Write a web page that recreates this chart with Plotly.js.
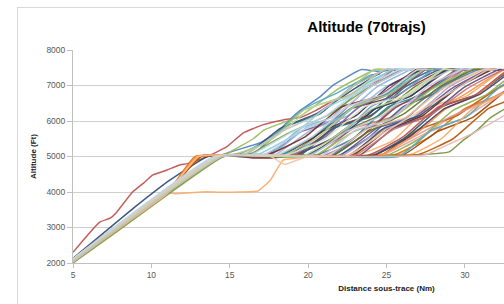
<!DOCTYPE html>
<html>
<head>
<meta charset="utf-8">
<script src="https://cdn.plot.ly/plotly-3.0.1.min.js"></script>
<style>
html,body{margin:0;padding:0;overflow:hidden;background:#fff;width:504px;height:304px;}
#frame{position:absolute;left:17px;top:7px;width:700px;height:330px;border:1px solid #d9d9d9;background:#fff;}
#chart{position:absolute;left:0;top:0;}
</style>
</head>
<body>
<div id="frame"><div id="chart"></div></div>
<script>
// Tick labels (the ones visible in the cropped reference)
const xTicks = [5, 10, 15, 20, 25, 30];
const yTicks = [2000, 3000, 4000, 5000, 6000, 7000, 8000];

// Trajectories: distance (Nm) and altitude (Ft)
const dist01 = [5,14.3,15.2,16.9,18,18.8,19.5,20.75,21.6,23.4,24.4,25.2];
const alt01  = [2080,5000,5150,5380,5660,6030,6300,6680,7010,7450,7400,7430];
const dist02 = [5,6.7,7.4,7.8,8.8,9.5,10.1,11,11.8,12.3,13.5,14.8,15.85,17.1,18.4,19.5,20.5,21.5,22.5,23.5,24.5,25.5,26.2];
const alt02  = [2300,3150,3270,3440,4000,4250,4480,4620,4760,4800,4990,5270,5660,5890,6030,6100,6300,6550,6700,6950,7150,7450,7440];
const dist03 = [5,9,11,11.5,12.5,13.5,14.5,15.5,16.8,17.6,18.4,19.2,20.5,22,24,25,26,27,28,29.5,31,32.5,36];
const alt03  = [2050,3330,3980,3950,3980,4010,3990,4000,4030,4340,4900,4950,5000,4990,5010,5000,5100,5400,5800,6200,6600,7000,7450];
const dist04 = [5,14.0,14.8,16.5,17.2,19.55,21.9,24.3,24.9];
const alt04  = [2120,5000,5080,5500,5750,6150,6900,7450,7450];
const dist05 = [5,14.3,15.6,17,18.5,19.25,21.5,23.75,26,26.6];
const alt05  = [2060,5000,5020,5010,5350,5650,6000,6900,7450,7440];
const dist06 = [5,14.2,15.5,17.6,19.75,21.9,24,24.6];
const alt06  = [2090,5000,5050,5500,6350,6800,7300,7320];
const dist07 = [5,9,11,13.0,14.5,18,22.5,25,27.5,30,32.5,33.1];
const alt07  = [2060,3330,3960,5000,5050,4990,5020,5800,6150,6750,7450,7450];
const dist08 = [5,9.1,11.2,13.6,16,18.25,20.5,22.75,25,25.6];
const alt08  = [2130,3630,4340,5000,5050,5800,6200,6850,7450,7440];
const dist09 = [5,14.5,16.5,18,20.4,22.75,25.1,27.5,28.1];
const alt09  = [2050,5000,4960,4970,5550,6350,6650,7450,7460];
const dist10 = [5,7.5,14.6,17,20,22.25,24.5,26.75,29,29.6];
const alt10  = [2020,2850,5000,5030,5000,5700,6150,6950,7450,7440];
const dist11 = [5,14.3,16.5,19,21.5,24,26.5,29,29.6];
const alt11  = [2070,5000,5040,5020,5500,6300,6700,7450,7450];
const dist12 = [5,14.1,16.5,18.6,20.75,22.9,25,25.6];
const alt12  = [2100,5000,5080,5850,6200,7000,7450,7430];
const dist13 = [5,9,11,13.1,16,20,24.5,27,29.5,32,34.5,36];
const alt13  = [2070,3340,3960,5000,5010,5030,5000,5750,6150,6900,7450,7450];
const dist14 = [5,14.3,16.5,18.5,20.75,23,25.25,27.5,28.1];
const alt14  = [2080,5000,5030,5060,5500,6450,6800,7450,7460];
const dist15 = [5,14.4,17.5,20.5,22.9,25.25,27.6,30,30.6];
const alt15  = [2110,5000,4980,5010,5800,6100,6850,7450,7440];
const dist16 = [5,14.2,15.2,17.45,19.7,21.95,24.2,24.8];
const alt16  = [2060,5000,5050,5400,6300,6650,7450,7450];
const dist17 = [5,14.5,18,21,23.25,25.5,27.75,30,30.6];
const alt17  = [2040,5000,5020,5030,5500,6400,6750,7450,7430];
const dist18 = [5,14.3,17.5,19.5,21.5,23.5,25.5,26.1];
const alt18  = [2090,5000,5050,5800,6100,7000,7450,7460];
const dist19 = [5,9,11,12.9,15,19,23,25.4,27.75,30.1,32.5,33.1];
const alt19  = [2050,3320,3960,5000,5040,5000,5020,5450,6400,6700,7450,7440];
const dist20 = [5,14.4,17,19.5,21.6,23.75,25.9,28,28.6];
const alt20  = [2070,5000,5000,5050,5800,6150,7000,7450,7450];
const dist21 = [5,14.3,18,21.5,23.5,25.5,27.5,29.5,30.1];
const alt21  = [2120,5000,5030,5020,5600,6350,6850,7450,7440];
const dist22 = [5,8,14.6,16.2,18.7,21.2,23.7,26.2,26.8];
const alt22  = [2000,2950,5000,5050,5650,6150,6900,7450,7460];
const dist23 = [5,14.2,18,22,24.4,26.75,29.1,31.5,32.1];
const alt23  = [2050,5000,5050,5030,5800,6100,6900,7450,7450];
const dist24 = [5,14.3,16,18.2,20.45,22.7,24.95,27.2,27.8];
const alt24  = [2080,5000,5020,5040,5600,6350,6750,7450,7430];
const dist25 = [5,9,11,12.8,16,21,25.5,27.75,30,32.25,34.5,36];
const alt25  = [2070,3340,3970,5000,5030,5010,5050,5550,6350,6750,7450,7450];
const dist26 = [5,14.4,17.8,20.2,22.55,24.9,27.3,27.9];
const alt26  = [2100,5000,5030,5750,6150,6950,7450,7440];
const dist27 = [5,14.5,19,23.5,26.5,29,31.5,34.5,36];
const alt27  = [2040,5000,5030,5000,5500,6100,6600,7300,7450];
const dist28 = [5,14.1,15.8,18.05,20.3,22.55,24.8,25.4];
const alt28  = [2110,5000,5050,5600,6400,6700,7450,7460];
const dist29 = [5,14.3,17,20.2,22.45,24.7,26.95,29.2,29.8];
const alt29  = [2050,5000,5010,5040,5700,6150,6950,7450,7440];
const dist30 = [5,14.2,16.8,18.9,21.05,23.2,25.3,25.9];
const alt30  = [2090,5000,5060,5550,6350,6800,7450,7450];
const dist31 = [5,9,11,13,16,21.2,23.7,26.2,28.7,31.2,31.8];
const alt31  = [2050,3320,3950,5000,5050,5020,5750,6100,6950,7450,7430];
const dist32 = [5,14.4,17,19.8,22.05,24.3,26.55,28.8,29.4];
const alt32  = [2070,5000,5020,5030,5550,6350,6700,7450,7460];
const dist33 = [5,14.3,18.5,22.8,25.05,27.3,29.55,31.8,32.4];
const alt33  = [2100,5000,5000,5030,5750,6150,6950,7450,7440];
const dist34 = [5,14.5,18,22,25.4,27,29,29.9,30.8,31.6,32.2,33,34,36];
const alt34  = [2040,5000,5030,5000,5040,5050,5130,5460,5750,6080,6250,6450,6600,7000];
const dist35 = [5,14.4,16.5,18.8,20.9,23.05,25.2,27.3,27.9];
const alt35  = [2060,5000,5030,5050,5700,6150,7000,7450,7450];
const dist36 = [5,14.3,19,24,26.25,28.5,30.75,33,33.6];
const alt36  = [2080,5000,5020,5000,5550,6400,6750,7450,7440];
const dist37 = [5,9,11,13,17,22,26,28.25,30.5,32.75,35,36];
const alt37  = [2060,3330,3960,5000,5040,5000,5030,5700,6100,6900,7450,7450];
const dist38 = [5,14,17.2,19.45,21.7,23.95,26.2,26.8];
const alt38  = [2120,5000,5050,5700,6150,6950,7450,7460];
const dist39 = [5,14.5,19,23,27.5,28.5,29.5,30.5,31.5,32.5,33.5,36];
const alt39  = [2030,5000,5030,5000,5050,5250,5450,5650,5900,6150,6400,7000];
const dist40 = [5,14.4,18.6,21.1,23.6,26.1,28.6,29.2];
const alt40  = [2090,5000,5040,5500,6400,6700,7450,7440];
const dist41 = [5,14.3,17.5,20.8,23.05,25.3,27.55,29.8,30.4];
const alt41  = [2060,5000,5020,5000,5750,6050,6950,7450,7450];
const dist42 = [5,14.1,16.4,18.8,21.15,23.5,25.9,26.5];
const alt42  = [2110,5000,5060,5650,6150,6950,7450,7430];
const dist43 = [5,14.4,17.6,18.5,19.3,20,22.5,24.75,27,29.25,31.5,32.1];
const alt43  = [2050,5000,5000,4780,4900,5000,5020,5650,6250,6850,7450,7450];
const dist44 = [5,14.3,18,21.8,23.9,26.05,28.2,30.3,30.9];
const alt44  = [2070,5000,5040,5000,5550,6400,6800,7450,7460];
const dist45 = [5,14.4,17,19.2,21.6,23.95,26.3,28.7,29.3];
const alt45  = [2100,5000,4980,5020,5800,6150,6900,7450,7440];
const dist46 = [5,14.5,20,25,27.1,29.25,31.4,33.5,34.1];
const alt46  = [2040,5000,5020,5030,5500,6300,6750,7450,7450];
const dist47 = [5,14.3,18.5,23.2,25.45,27.7,29.95,32.2,32.8];
const alt47  = [2080,5000,5030,5010,5800,6150,6950,7450,7430];
const dist48 = [5,14.2,17.5,20.6,22.85,25.1,27.35,29.6,30.2];
const alt48  = [2060,5000,5000,5050,5500,6400,6750,7450,7460];
const dist49 = [5,14.3,17.6,19.85,22.1,24.35,26.6,27.2];
const alt49  = [2100,5000,5040,5800,6100,6950,7450,7440];
const dist50 = [5,14.5,19.5,24.5,27.5,30,32.5,35,36];
const alt50  = [2050,5000,5020,5000,5650,6100,6800,7300,7450];
const dist51 = [5,14.3,17,19.6,21.85,24.1,26.35,28.6,29.2];
const alt51  = [2090,5000,5030,5000,5600,6350,6700,7450,7450];
const dist52 = [5,14.4,18,22.2,24.45,26.7,28.95,31.2,31.8];
const alt52  = [2070,5000,5010,5040,5700,6100,6950,7450,7440];
const dist53 = [5,14.2,18,20.25,22.5,24.75,27,27.6];
const alt53  = [2110,5000,5050,5550,6400,6750,7450,7460];
const dist54 = [5,9,11,12.9,16,20,24.8,26.8,28.8,30.8,32.8,33.4];
const alt54  = [2050,3320,3960,5000,5050,5020,5080,5600,6350,6750,7450,7440];
const dist55 = [5,14.3,18,21.4,23.8,26.15,28.5,30.9,31.5];
const alt55  = [2080,5000,5030,5010,5800,6050,6950,7450,7450];
const dist56 = [5,14.4,19,23.8,26.05,28.3,30.55,32.8,33.4];
const alt56  = [2060,5000,5000,5030,5550,6400,6700,7450,7430];
const dist57 = [5,14.3,17.5,20.4,22.9,25.4,27.9,30.4,31];
const alt57  = [2100,5000,5040,5020,5700,6100,6900,7450,7460];
const dist58 = [5,14.2,16.5,19,21.1,23.25,25.4,27.5,28.1];
const alt58  = [2070,5000,5020,5050,5550,6400,6800,7450,7440];
const dist59 = [5,14.4,20,25.8,27.9,30.05,32.2,34.3,36];
const alt59  = [2050,5000,5030,5000,5750,6100,6950,7450,7450];
const dist60 = [5,9,11,13.1,17,22,26.5,28.5,30.5,32.5,34.5,36];
const alt60  = [2060,3330,3960,5000,5030,5000,5050,5500,6350,6800,7450,7450];
const dist61 = [5,14.3,18.5,22.6,24.85,27.1,29.35,31.6,32.2];
const alt61  = [2090,5000,5040,5020,5800,6150,6900,7450,7440];
const dist62 = [5,14.2,17.4,19.8,22.15,24.5,26.9,27.5];
const alt62  = [2120,5000,5050,5550,6400,6700,7450,7450];
const dist63 = [5,14.5,18,21.6,23.85,26.1,28.35,30.6,31.2];
const alt63  = [2060,5000,4990,5030,5700,6200,6950,7450,7460];
const dist64 = [5,14.3,19,24.2,26.45,28.7,30.95,33.2,33.8];
const alt64  = [2080,5000,5020,5040,5550,6350,6750,7450,7440];
const dist65 = [5,14.4,17,19.4,21.65,23.9,26.15,28.4,29];
const alt65  = [2100,5000,5030,5010,5800,6100,6950,7450,7430];
const dist66 = [5,9,11,13.2,18,23,27,29.25,31.5,33.75,36];
const alt66  = [2070,3340,3960,5000,5040,5010,5050,5500,6350,6750,7450];
const dist67 = [5,14.3,17,20,22,24,26,28,28.6];
const alt67  = [2070,5000,5050,5030,5550,6400,6800,7450,7450];
const dist68 = [5,14.4,18.5,23,25.4,27.75,30.1,32.5,33.1];
const alt68  = [2090,5000,5010,5040,5750,6150,6900,7450,7440];
const dist69 = [5,14.3,16.5,18.4,20.65,22.9,25.15,27.4,28];
const alt69  = [2060,5000,5040,5020,5550,6400,6750,7450,7460];
const dist70 = [5,14.5,16,18.25,20.5,22.75,25,25.6];
const alt70  = [2050,5000,5060,5700,6150,6950,7450,7450];

const seriesColors = [
  "#4F81BD","#C0504D","#F9AB6B","#9BBB59","#8064A2","#4BACC6","#F79646","#2C4D75","#772C2A","#5F7530",
  "#4D3B62","#276A7C","#B65708","#729ACA","#CD7371","#AFC97A","#9983B5","#6FBDD1","#F9AB6B","#3A5F8B",
  "#8C3836","#7E9D40","#664F82","#339AB4","#E46C0A","#95B3D7","#D99694","#C3D69B","#C8C8C8","#93CDDD",
  "#FAC090","#254061","#632523","#77933C","#3F3151","#215968","#984807","#C6D3E3","#E6B9B8","#D7E4BD",
  "#CCC1DA","#BDD7EE","#F2C5A8","#376092","#953735","#8FB04F","#604A7B","#31859C","#8EB4E3","#E6A19F",
  "#C3D69B","#B3A2C7","#D0D0D0","#F79646","#4F81BD","#C0504D","#9BBB59","#8064A2","#4BACC6","#FAA75B",
  "#2C4D75","#772C2A","#5F7530","#4D3B62","#276A7C","#B65708","#729ACA","#CD7371","#AFC97A","#BFBFBF"
];

const distList = [dist01,dist02,dist03,dist04,dist05,dist06,dist07,dist08,dist09,dist10,
  dist11,dist12,dist13,dist14,dist15,dist16,dist17,dist18,dist19,dist20,
  dist21,dist22,dist23,dist24,dist25,dist26,dist27,dist28,dist29,dist30,
  dist31,dist32,dist33,dist34,dist35,dist36,dist37,dist38,dist39,dist40,
  dist41,dist42,dist43,dist44,dist45,dist46,dist47,dist48,dist49,dist50,
  dist51,dist52,dist53,dist54,dist55,dist56,dist57,dist58,dist59,dist60,
  dist61,dist62,dist63,dist64,dist65,dist66,dist67,dist68,dist69,dist70];
const altList = [alt01,alt02,alt03,alt04,alt05,alt06,alt07,alt08,alt09,alt10,
  alt11,alt12,alt13,alt14,alt15,alt16,alt17,alt18,alt19,alt20,
  alt21,alt22,alt23,alt24,alt25,alt26,alt27,alt28,alt29,alt30,
  alt31,alt32,alt33,alt34,alt35,alt36,alt37,alt38,alt39,alt40,
  alt41,alt42,alt43,alt44,alt45,alt46,alt47,alt48,alt49,alt50,
  alt51,alt52,alt53,alt54,alt55,alt56,alt57,alt58,alt59,alt60,
  alt61,alt62,alt63,alt64,alt65,alt66,alt67,alt68,alt69,alt70];

function lum(hex) {
  const v = parseInt(hex.slice(1), 16);
  return (0.299 * (v >> 16) + 0.587 * ((v >> 8) & 255) + 0.114 * (v & 255)) / 255;
}

let traces = distList.map((d, i) => ({
  x: d, y: altList[i], type: "scatter", mode: "lines",
  line: {color: seriesColors[i], width: 1.5, shape: "spline", smoothing: 0.4},
  opacity: 0.92,
  hoverinfo: "skip", showlegend: false
}));
// very light series are drawn last (they form the pale band on top)
const dark = traces.filter(t => lum(t.line.color) <= 0.74);
const light = traces.filter(t => lum(t.line.color) > 0.74);
traces = dark.concat(light);

const font = "'Liberation Sans', Arial, sans-serif";
const layout = {
  width: 697, height: 300,
  margin: {l: 55, r: 15, t: 42, b: 45},
  paper_bgcolor: "#ffffff", plot_bgcolor: "#ffffff",
  font: {family: font, size: 8, color: "#595959"},
  title: {text: "<b>Altitude (70trajs)</b>", font: {family: font, size: 15, color: "#000000"},
          x: 0.5, xref: "container", xanchor: "center", y: 0.937, yref: "container", yanchor: "middle"},
  xaxis: {range: [5, 45], tickvals: xTicks, ticktext: xTicks.map(String),
          showgrid: false, zeroline: false, showline: true, linecolor: "#c0c0c0", linewidth: 1,
          ticks: "outside", ticklen: 4, tickcolor: "#c0c0c0",
          tickfont: {family: font, size: 8.5, color: "#595959"},
          title: {text: "<b>Distance sous-trace (Nm)</b>", font: {family: font, size: 8, color: "#222"}, standoff: 6}},
  yaxis: {range: [2000, 8000], tickvals: yTicks, ticktext: yTicks.map(String),
          showgrid: true, gridcolor: "#cfcfcf", gridwidth: 1, zeroline: false,
          showline: true, linecolor: "#c0c0c0", linewidth: 1,
          ticks: "outside", ticklen: 5, tickcolor: "#c0c0c0",
          tickfont: {family: font, size: 8.5, color: "#595959"},
          title: {text: "<b>Altitude (Ft)</b>", font: {family: font, size: 8, color: "#222"}, standoff: 8}}
};

Plotly.newPlot("chart", traces, layout, {displayModeBar: false, staticPlot: true});
</script>
</body>
</html>
